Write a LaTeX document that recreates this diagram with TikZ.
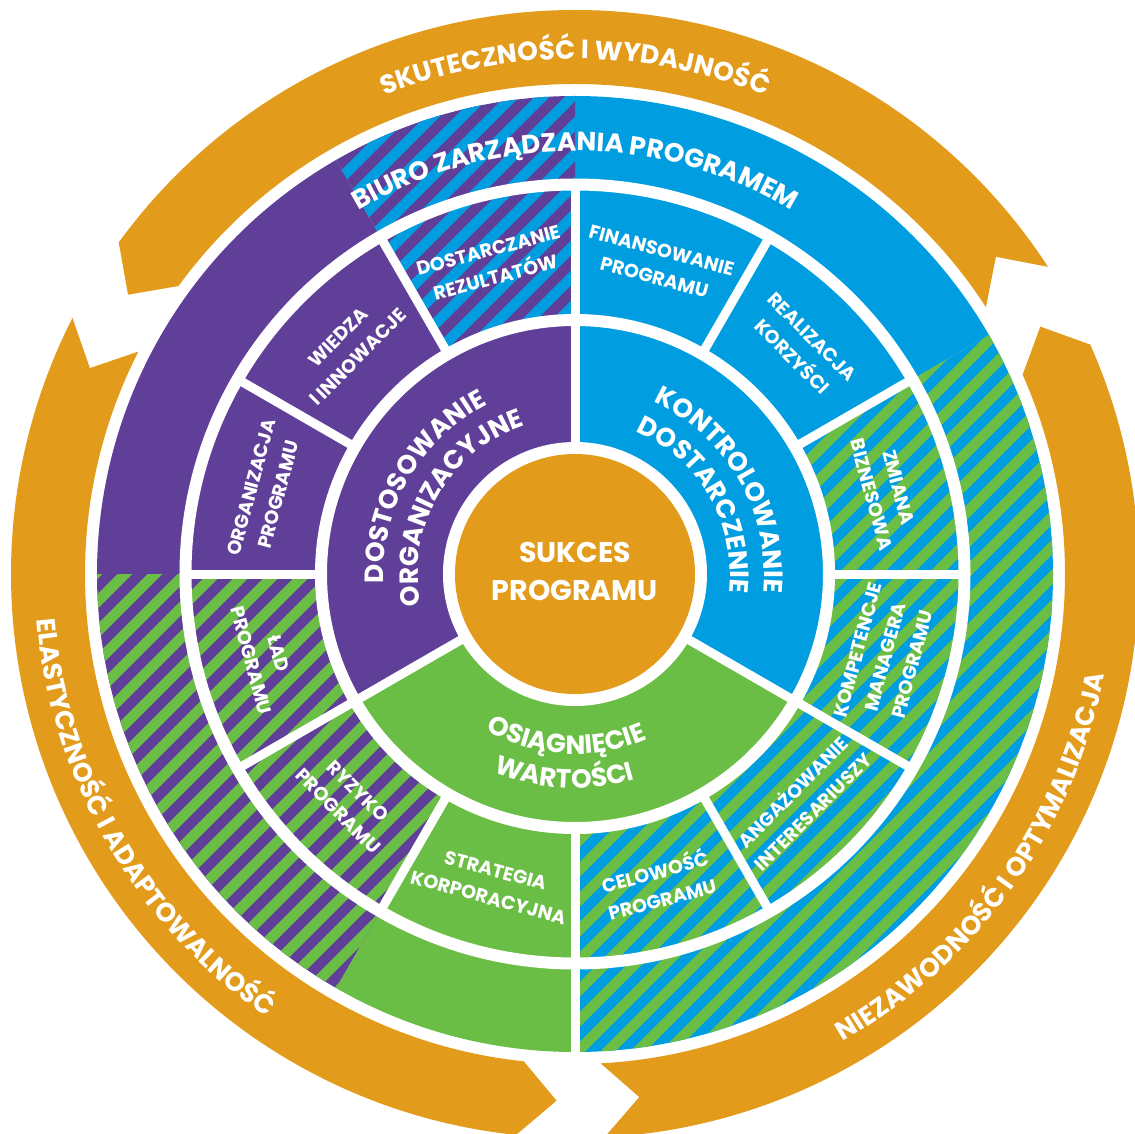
\documentclass[tikz,border=0pt]{standalone}
\usepackage{fontspec}
\setmainfont{Poppins}
\usetikzlibrary{decorations.text}

\definecolor{msppurple}{RGB}{96, 63, 152}
\definecolor{mspblue}{RGB}{0, 158, 224}
\definecolor{mspgreen}{RGB}{106, 189, 69}
\definecolor{msporange}{RGB}{227, 155, 27}

\newcommand{\bandfont}{\fontsize{15}{18}\selectfont\bfseries\color{white}}
\newcommand{\corefont}{\fontsize{15}{18}\selectfont\bfseries\color{white}}

% one sector of the disc: base colour with diagonal stripes on top
\newcommand{\stripedsector}[4]{%
  \begin{scope}
    \clip (0,0) -- (#1:478) arc[start angle=#1, end angle=#2, radius=478] -- cycle;
    \fill[#3] (-480,-480) rectangle (480,480);
    \foreach \s in {-960,-930,...,960}
      \draw[stripe, #4] ({\s-480},-480) -- ({\s+480},480);
  \end{scope}}

\tikzset{
  stripe/.style={line width=0.212cm},
  ringgap/.style={draw=white, line width=0.24cm},
  spoke/.style={draw=white, line width=0.18cm},
  seglabel/.style={text=white, align=center, inner sep=0pt,
    font=\fontsize{10.8}{16}\selectfont\bfseries},
  arctext/.style={decorate, decoration={text along path, text align=center, text={#1}}},
}

\begin{document}
\begin{tikzpicture}[x=0.02cm, y=0.02cm]
    \useasboundingbox (-575,-559) rectangle (560,574);
    \clip (-575,-559) rectangle (560,574);

    % orange arrows round the disc
    \foreach \t in {33,153,273}
      \fill[msporange] (\t:564) arc[start angle=\t, end angle=\t+111, radius=564]
        -- ({\t+115}:527) -- ({\t+111}:490)
        arc[start angle=\t+111, end angle=\t, radius=490]
        -- ({\t+4}:527) -- cycle;

    % outer disc, plain sectors
    \fill[mspblue] (0,0) -- (30:478) arc[start angle=30, end angle=90, radius=478] -- cycle;
    \fill[msppurple] (0,0) -- (120:478) arc[start angle=120, end angle=180, radius=478] -- cycle;
    \fill[mspgreen] (0,0) -- (240:478) arc[start angle=240, end angle=270, radius=478] -- cycle;
    % outer disc, striped sectors
    \stripedsector{90}{120}{msppurple}{mspblue}
    \stripedsector{180}{240}{msppurple}{mspgreen}
    \stripedsector{-90}{30}{mspblue}{mspgreen}

    % inner ring: three areas
    \fill[msppurple] (0,0) -- (90:254) arc[start angle=90, end angle=210, radius=254] -- cycle;
    \fill[mspgreen] (0,0) -- (210:254) arc[start angle=210, end angle=330, radius=254] -- cycle;
    \fill[mspblue] (0,0) -- (-30:254) arc[start angle=-30, end angle=90, radius=254] -- cycle;

    % white gaps and spokes
    \draw[ringgap] (0,0) circle[radius=389.5];
    \draw[ringgap] (0,0) circle[radius=254];
    \foreach \a in {0,30,...,330}
      \draw[spoke] (\a:254) -- (\a:389.5);
    \foreach \a in {90,210,330}
      \draw[spoke] (\a:126) -- (\a:254);
    \draw[spoke] (270:389.5) -- (270:480);

    % centre
    \fill[white] (0,0) circle[radius=132];
    \fill[msporange] (0,0) circle[radius=120];
    \node[text=white, align=center, inner sep=0pt,
      font=\fontsize{16.2}{21.6}\selectfont\bfseries] (sukces) at (0,3) {SUKCES\\PROGRAMU};

    % texts on the arrows
    \path[arctext={|\bandfont|SKUTECZNOŚĆ I WYDAJNOŚĆ}]
      (150:515) arc[start angle=150, end angle=30, radius=515];
    \path[arctext={|\bandfont|NIEZAWODNOŚĆ I OPTYMALIZACJA}]
      (-95:539) arc[start angle=-95, end angle=24, radius=539];
    \path[arctext={|\bandfont|ELASTYCZNOŚĆ I ADAPTOWALNOŚĆ}]
      (150:540) arc[start angle=150, end angle=270, radius=540];

    % outer band
    \path[arctext={|\corefont|BIURO ZARZĄDZANIA PROGRAMEM}]
      (150:423) arc[start angle=150, end angle=30, radius=423];

    % inner ring texts
    \path[arctext={|\corefont|DOSTOSOWANIE}]
      (210:191) arc[start angle=210, end angle=90, radius=191];
    \path[arctext={|\corefont|ORGANIZACYJNE}]
      (210:157) arc[start angle=210, end angle=90, radius=157];
    \path[arctext={|\corefont|KONTROLOWANIE}]
      (90:189) arc[start angle=90, end angle=-30, radius=189];
    \path[arctext={|\corefont|DOSTARCZENIE}]
      (90:155) arc[start angle=90, end angle=-30, radius=155];
    \path[arctext={|\corefont|OSIĄGNIĘCIE}]
      (207:180) arc[start angle=207, end angle=327, radius=180];
    \path[arctext={|\corefont|WARTOŚCI}]
      (207:214) arc[start angle=207, end angle=327, radius=214];

    % twelve segments
    \foreach \a/\r/\txt/\nm in {
        105/15/{DOSTARCZANIE\\REZULTATÓW}/dostarczanie,
        75/-15/{FINANSOWANIE\\PROGRAMU}/finansowanie,
        45/-45/{REALIZACJA\\KORZYŚCI}/realizacja,
        15/-75/{ZMIANA\\BIZNESOWA}/zmiana,
        -15/75/{KOMPETENCJE\\MANAGERA\\PROGRAMU}/kompetencje,
        -45/45/{ANGAŻOWANIE\\INTERESARIUSZY}/angazowanie,
        -75/15/{CELOWOŚĆ\\PROGRAMU}/celowosc,
        255/-15/{STRATEGIA\\KORPORACYJNA}/strategia,
        225/-45/{RYZYKO\\PROGRAMU}/ryzyko,
        195/-75/{ŁAD\\PROGRAMU}/lad,
        165/75/{ORGANIZACJA\\PROGRAMU}/organizacja,
        135/45/{WIEDZA\\I INNOWACJE}/wiedza}
      \node[seglabel, rotate=\r] (\nm) at (\a:321) {\txt};
\end{tikzpicture}
\end{document}
